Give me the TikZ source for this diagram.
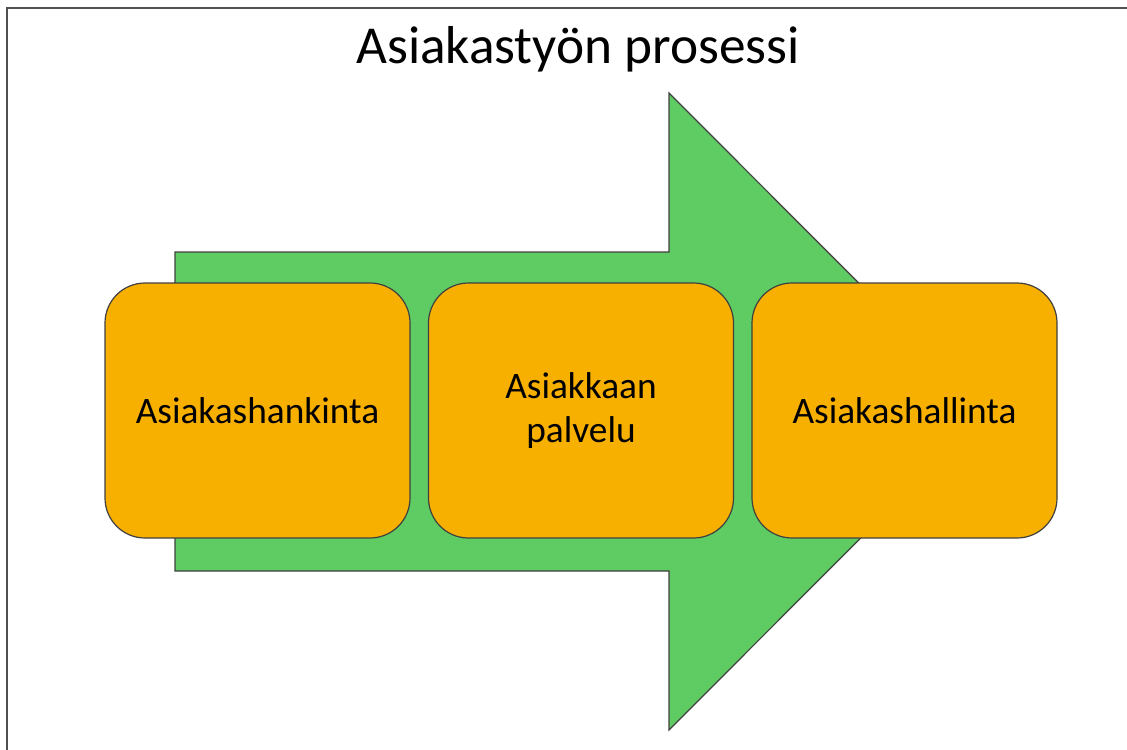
\documentclass[tikz,border=0pt]{standalone}
\usepackage{fontspec}
\setmainfont{Carlito}
\definecolor{arrowgreen}{RGB}{94,204,98}
\definecolor{boxgold}{RGB}{247,175,0}
\definecolor{edgegray}{RGB}{64,64,64}
\definecolor{framegray}{RGB}{80,80,80}
\tikzset{
  stagebox/.style={draw=edgegray, line width=0.9pt, fill=boxgold,
    rounded corners=30pt, minimum width=228.75pt, minimum height=191.25pt,
    align=center, inner sep=0pt,
    font=\fontsize{28}{33}\selectfont},
  bigarrow/.style={draw=edgegray, line width=0.9pt, fill=arrowgreen, line join=miter},
  titletext/.style={font=\fontsize{40}{48}\selectfont, anchor=base},
  frameline/.style={draw=framegray, line width=2pt, line join=miter}
}
\begin{document}
\begin{tikzpicture}[x=0.75pt, y=-0.75pt]
  \useasboundingbox (0,0) rectangle (1127,749);
  % outer frame (top and left edges)
  \draw[frameline] (7,760) -- (7,8) -- (1140,8);
  % title
  \node[titletext] (title) at (578,64) {Asiakastyön prosessi};
  % block arrow behind the stages
  \coordinate (tailtop) at (175,252);
  \coordinate (shafttop) at (669,252);
  \coordinate (headtop) at (669,93);
  \coordinate (tip) at (987,411.5);
  \coordinate (headbot) at (669,730);
  \coordinate (shaftbot) at (669,571);
  \coordinate (tailbot) at (175,571);
  \path[bigarrow] (tailtop) -- (shafttop) -- (headtop) -- (tip)
    -- (headbot) -- (shaftbot) -- (tailbot) -- cycle;
  % process stages
  \node[stagebox] (hankinta) at (257.5,410.5) {Asiakashankinta};
  \node[stagebox] (palvelu) at (581,410.5) {Asiakkaan\\palvelu};
  \node[stagebox] (hallinta) at (904.5,410.5) {Asiakashallinta};
\end{tikzpicture}
\end{document}
